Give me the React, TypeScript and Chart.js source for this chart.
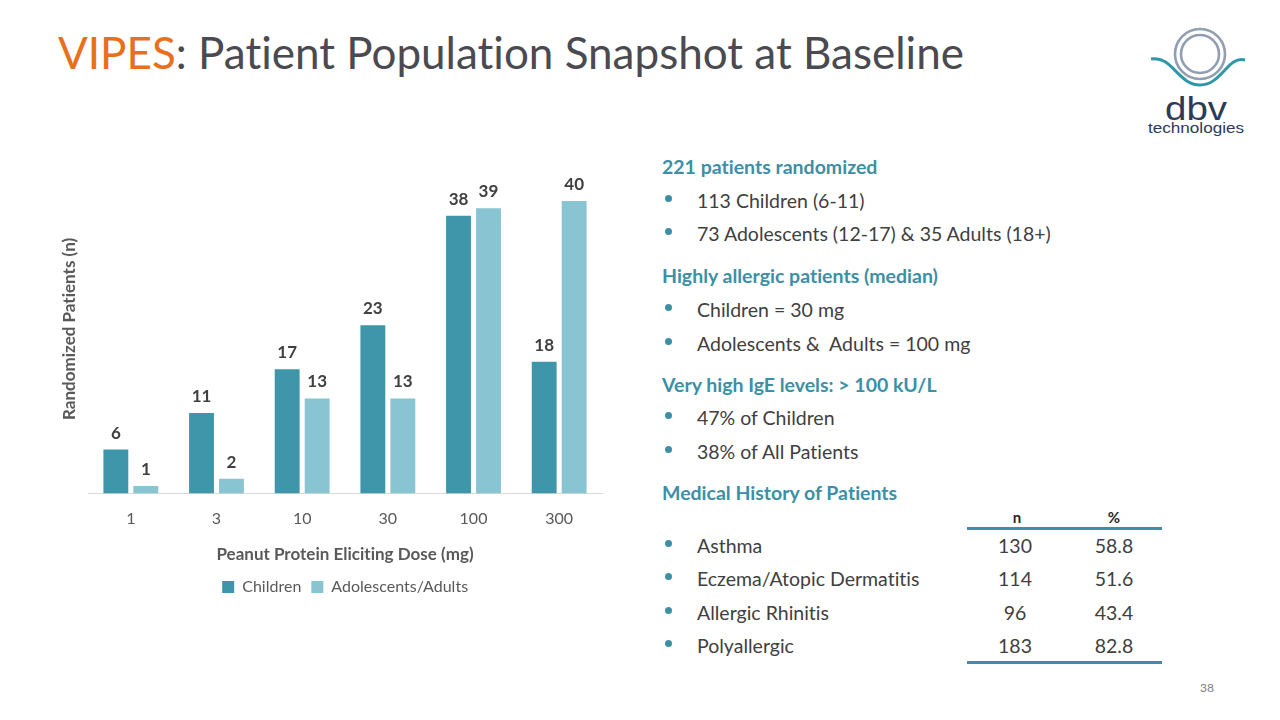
import React, { useEffect, useRef } from "react";
import { Chart, registerables } from "chart.js";

Chart.register(...registerables);

const categories = ["1", "3", "10", "30", "100", "300"];
const childrenValues = [6, 11, 17, 23, 38, 18];
const adultValues = [1, 2, 13, 13, 39, 40];
const seriesNames = ["Children", "Adolescents/Adults"];

const historyNames = ["Asthma", "Eczema/Atopic Dermatitis", "Allergic Rhinitis", "Polyallergic"];
const historyN = ["130", "114", "96", "183"];
const historyPct = ["58.8", "51.6", "43.4", "82.8"];

const FONT = "Lato, 'Open Sans', sans-serif";
const TEAL = "#3D8FA6";
const DARK = "#404040";
const BAR1 = "#3F96AA";
const BAR2 = "#88C4D2";

const noLigaturePlugin = {
  id: "noLigatures",
  beforeDraw(chart: any) {
    try {
      chart.ctx.letterSpacing = "0.01px";
    } catch (e) {}
  },
};

const dataLabelPlugin = {
  id: "dataLabels",
  afterDatasetsDraw(chart: any) {
    const ctx = chart.ctx;
    ctx.save();
    ctx.font = `bold 17px ${FONT}`;
    ctx.fillStyle = DARK;
    ctx.textAlign = "center";
    ctx.textBaseline = "alphabetic";
    chart.data.datasets.forEach((ds: any, i: number) => {
      const meta = chart.getDatasetMeta(i);
      meta.data.forEach((bar: any, j: number) => {
        ctx.fillText(String(ds.data[j]), bar.x, bar.y - 11);
      });
    });
    ctx.restore();
  },
};

function BarChart() {
  const ref = useRef<HTMLCanvasElement | null>(null);
  useEffect(() => {
    if (!ref.current) return;
    const chart = new Chart(ref.current, {
      type: "bar",
      data: {
        labels: categories,
        datasets: [
          {
            label: seriesNames[0],
            data: childrenValues,
            backgroundColor: BAR1,
            categoryPercentage: 0.7,
            barPercentage: 0.83,
          },
          {
            label: seriesNames[1],
            data: adultValues,
            backgroundColor: BAR2,
            categoryPercentage: 0.7,
            barPercentage: 0.83,
          },
        ],
      },
      options: {
        animation: false,
        responsive: false,
        maintainAspectRatio: false,
        devicePixelRatio: 1,
        layout: { padding: { top: 14.5, left: 19.6, right: 18, bottom: 5 } },
        plugins: {
          tooltip: { enabled: false },
          legend: {
            position: "bottom",
            fullSize: false,
            labels: {
              boxWidth: 12,
              boxHeight: 12,
              color: "#595959",
              font: { family: FONT, size: 16 },
              padding: 10,
            },
          },
        },
        scales: {
          x: {
            grid: { display: false, drawTicks: false },
            border: { display: true, color: "#D9D9D9", width: 1 },
            ticks: {
              color: "#595959",
              font: { family: FONT, size: 16 },
              padding: 16,
            },
            title: {
              display: true,
              text: "Peanut Protein Eliciting Dose (mg)",
              color: "#595959",
              font: { family: FONT, size: 17, weight: "bold" },
              padding: { top: 0, bottom: 4 },
            },
          },
          y: {
            min: 0,
            max: 45,
            grid: { display: false, drawTicks: false },
            border: { display: false },
            ticks: { display: false },
            title: {
              display: true,
              text: "Randomized Patients (n)",
              color: "#595959",
              font: { family: FONT, size: 17, weight: "bold" },
              padding: { top: 0, bottom: 8 },
            },
          },
        },
      },
      plugins: [noLigaturePlugin, dataLabelPlugin],
    });
    return () => chart.destroy();
  }, []);
  return (
    <canvas
      ref={ref}
      width={580}
      height={460}
      style={{ position: "absolute", left: 40, top: 150, width: 580, height: 460 }}
    />
  );
}

function T(props: {
  x: number;
  y: number;
  size: number;
  bold?: boolean;
  color?: string;
  align?: "left" | "center";
  children: React.ReactNode;
}) {
  const { x, y, size, bold, color, align, children } = props;
  const lh = size * 1.2;
  const style: React.CSSProperties = {
    position: "absolute",
    top: y - lh / 2,
    lineHeight: `${lh}px`,
    fontSize: size,
    fontWeight: bold ? 700 : 400,
    color: color || DARK,
    whiteSpace: "nowrap",
    fontFamily: FONT,
    fontVariantLigatures: "none",
  };
  if (align === "center") {
    style.left = x - 100;
    style.width = 200;
    style.textAlign = "center";
  } else {
    style.left = x;
  }
  return <div style={style}>{children}</div>;
}

function Bullet({ y }: { y: number }) {
  return (
    <div
      style={{
        position: "absolute",
        left: 664.5,
        top: y - 6.5,
        width: 7,
        height: 7,
        borderRadius: "50%",
        background: TEAL,
      }}
    />
  );
}

function Logo() {
  return (
    <svg
      width={120}
      height={130}
      viewBox="0 0 120 130"
      style={{ position: "absolute", left: 1140, top: 15 }}
    >
      <circle cx={60} cy={39} r={25} fill="none" stroke="#919DB0" strokeWidth={2.6} />
      <circle cx={60} cy={39} r={19} fill="none" stroke="#919DB0" strokeWidth={2.6} />
      <path
        d="M11 44 C 32 40, 38 70, 60 70 C 82 70, 88 40, 105 45"
        fill="none"
        stroke="#2E97A8"
        strokeWidth={3}
      />
      <text
        x={25}
        y={105}
        textLength={62}
        lengthAdjust="spacingAndGlyphs"
        fontFamily="'Liberation Sans', Arial, sans-serif"
        fontSize={34}
        fill="#2C3A58"
      >
        dbv
      </text>
      <text
        x={8}
        y={118}
        textLength={96}
        lengthAdjust="spacingAndGlyphs"
        fontFamily="'Liberation Sans', Arial, sans-serif"
        fontSize={15}
        fill="#2C3A58"
      >
        technologies
      </text>
    </svg>
  );
}

export default function App() {
  const rows = [546, 579, 613, 646];
  return (
    <div
      style={{
        position: "absolute",
        left: 0,
        top: 0,
        width: 1280,
        height: 720,
        background: "#FFFFFF",
        overflow: "hidden",
        fontFamily: FONT,
        fontVariantLigatures: "none",
      }}
    >
      <T x={58} y={52} size={44} color="#4A4A50">
        <span style={{ color: "#E8701C" }}>VIPES</span>: Patient Population Snapshot at Baseline
      </T>
      <Logo />
      <BarChart />

      <T x={662} y={167} size={19.5} bold color={TEAL}>221 patients randomized</T>
      <Bullet y={201} />
      <T x={697} y={201} size={19.5}>113 Children (6-11)</T>
      <Bullet y={234} />
      <T x={697} y={234} size={19.5}>73 Adolescents (12-17) &amp; 35 Adults (18+)</T>

      <T x={662} y={276} size={19.5} bold color={TEAL}>Highly allergic patients (median)</T>
      <Bullet y={310} />
      <T x={697} y={310} size={19.5}>Children = 30 mg</T>
      <Bullet y={344} />
      <T x={697} y={344} size={19.5}>Adolescents &amp;&nbsp; Adults = 100 mg</T>

      <T x={662} y={385} size={19.5} bold color={TEAL}>Very high IgE levels: &gt; 100 kU/L</T>
      <Bullet y={418} />
      <T x={697} y={418} size={19.5}>47% of Children</T>
      <Bullet y={452} />
      <T x={697} y={452} size={19.5}>38% of All Patients</T>

      <T x={662} y={493} size={19.5} bold color={TEAL}>Medical History of Patients</T>

      <T x={1017} y={517} size={15} bold color="#262626" align="center">n</T>
      <T x={1114} y={517} size={15} bold color="#262626" align="center">%</T>
      <div style={{ position: "absolute", left: 967, top: 527, width: 195, height: 3, background: TEAL }} />
      {historyNames.map((name, i) => (
        <React.Fragment key={name}>
          <Bullet y={rows[i]} />
          <T x={697} y={rows[i]} size={19.5}>{name}</T>
          <T x={1015} y={rows[i]} size={19.5} align="center">{historyN[i]}</T>
          <T x={1114} y={rows[i]} size={19.5} align="center">{historyPct[i]}</T>
        </React.Fragment>
      ))}
      <div style={{ position: "absolute", left: 967, top: 661, width: 195, height: 3, background: TEAL }} />

      <T x={1200} y={688} size={12} color="#808080">38</T>
    </div>
  );
}
